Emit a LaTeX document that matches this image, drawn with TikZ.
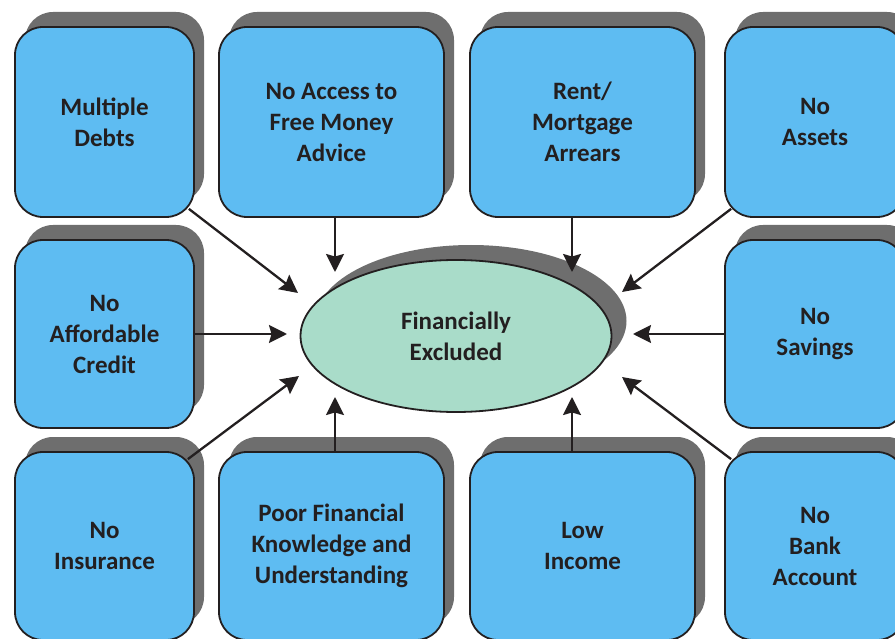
\documentclass[tikz,border=0pt]{standalone}
\usepackage{fontspec}
\setmainfont{Carlito}
\usetikzlibrary{arrows.meta,shapes.geometric,shadows}
\definecolor{boxblue}{HTML}{5EBCF2}
\definecolor{elfill}{HTML}{A9DCC9}
\definecolor{shadowgray}{HTML}{6E6E6E}
\definecolor{inkc}{HTML}{231F20}
\tikzset{
  cause/.style={draw=inkc, line width=1.8pt, fill=boxblue, rounded corners=28pt,
    rectangle, inner sep=0pt, align=center, text=inkc,
    font=\fontsize{25}{31}\selectfont\bfseries,
    drop shadow={shadow xshift=10pt, shadow yshift=15pt, fill=shadowgray, opacity=1}},
  core/.style={draw=inkc, line width=1.8pt, fill=elfill, ellipse, inner sep=0pt,
    minimum width=311pt, minimum height=152pt, align=center, text=inkc,
    font=\fontsize{25}{31}\selectfont\bfseries,
    drop shadow={shadow xshift=15pt, shadow yshift=15pt, fill=shadowgray, opacity=1}},
  arr/.style={draw=inkc, line width=2.3pt, -{Stealth[length=18pt,width=18pt,inset=2.5pt]}}
}
\begin{document}
\begin{tikzpicture}[x=1pt,y=-1pt]
\useasboundingbox (0,0) rectangle (895,639);
\clip (0,0) rectangle (895,639);
% row 1
\node[cause, minimum width=179pt, minimum height=190pt] (md) at (104.5,122) {Multiple\\Debts};
\node[cause, minimum width=225pt, minimum height=190pt] (acc) at (331.5,122) {No Access to\\Free Money\\Advice};
\node[cause, minimum width=225pt, minimum height=190pt] (rent) at (582.5,122) {Rent/\\Mortgage\\Arrears};
\node[cause, minimum width=180pt, minimum height=190pt] (ast) at (815,122) {No\\Assets};
% row 2
\node[cause, minimum width=179pt, minimum height=188pt] (aff) at (104.5,334) {No\\Affordable\\Credit};
\node[cause, minimum width=180pt, minimum height=188pt] (sav) at (815,334) {No\\Savings};
% row 3
\node[cause, minimum width=179pt, minimum height=188pt] (ins) at (104.5,546) {No\\Insurance};
\node[cause, minimum width=225pt, minimum height=188pt] (poor) at (331.5,546) {Poor Financial\\Knowledge and\\Understanding};
\node[cause, minimum width=225pt, minimum height=188pt] (low) at (582.5,546) {Low\\Income};
\node[cause, minimum width=180pt, minimum height=188pt] (bank) at (815,546) {No\\Bank\\Account};
% centre
\node[core] (fe) at (456,336) {Financially\\Excluded};
% arrow tips
\coordinate (t1) at (298,293);
\coordinate (t2) at (335,272);
\coordinate (t3) at (572,272);
\coordinate (t4) at (622,292);
\coordinate (t5) at (287,334);
\coordinate (t6) at (633,334);
\coordinate (t7) at (299,376);
\coordinate (t8) at (335,397);
\coordinate (t9) at (572,397);
\coordinate (t10) at (622,377);
\draw[arr] ([shift={(-6,-9)}]md.south east) -- (t1);
\draw[arr] (t2 |- acc.south) -- (t2);
\draw[arr] (t3 |- rent.south) -- (t3);
\draw[arr] ([shift={(7,-9)}]ast.south west) -- (t4);
\draw[arr] (t5 -| aff.east) -- (t5);
\draw[arr] (t6 -| sav.west) -- (t6);
\draw[arr] ([shift={(-7,8)}]ins.north east) -- (t7);
\draw[arr] (t8 |- poor.north) -- (t8);
\draw[arr] (t9 |- low.north) -- (t9);
\draw[arr] ([shift={(7,8)}]bank.north west) -- (t10);
\end{tikzpicture}
\end{document}
